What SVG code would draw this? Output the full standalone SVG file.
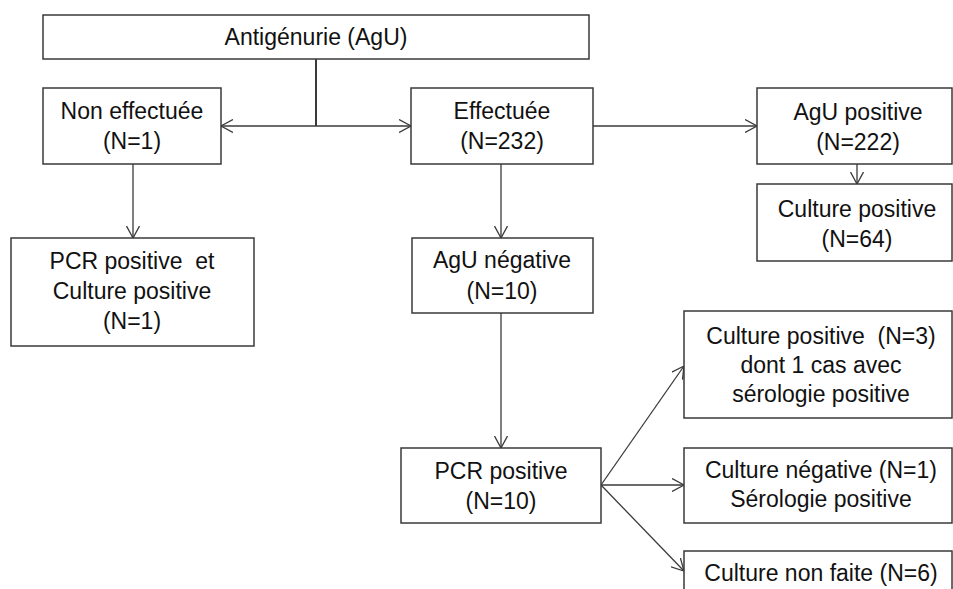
<svg xmlns="http://www.w3.org/2000/svg" width="953" height="589" viewBox="0 0 953 589">
<style>
.box{fill:#ffffff;stroke:#3a3a3a;stroke-width:1.5}
.t{font-family:"Liberation Sans",Arial,sans-serif;font-size:23px;fill:#111111;text-anchor:middle;white-space:pre}
.c{fill:none;stroke:#3a3a3a;stroke-width:1.3}
</style>
<defs>
<marker id="ah" viewBox="0 0 12 14" refX="12" refY="7" markerWidth="12" markerHeight="14" markerUnits="userSpaceOnUse" orient="auto">
<path d="M0,0.5 L12,7 L0,13.5" fill="none" stroke="#3a3a3a" stroke-width="1.3"/>
</marker>
</defs>
<rect width="953" height="589" fill="#ffffff"/>
<g id="connectors">
<line class="c" x1="316" y1="59" x2="316" y2="126" style="stroke-width:2"/>
<line class="c" x1="316" y1="126" x2="221" y2="126" marker-end="url(#ah)"/>
<line class="c" x1="316" y1="126" x2="411" y2="126" marker-end="url(#ah)"/>
<line class="c" x1="593" y1="126" x2="757" y2="126" marker-end="url(#ah)"/>
<line class="c" x1="857" y1="164" x2="857" y2="184" marker-end="url(#ah)"/>
<line class="c" x1="133" y1="164" x2="133" y2="238" marker-end="url(#ah)"/>
<line class="c" x1="501" y1="164" x2="501" y2="238" marker-end="url(#ah)"/>
<line class="c" x1="501" y1="313" x2="501" y2="448" marker-end="url(#ah)"/>
<line class="c" x1="601" y1="485" x2="684" y2="366" marker-end="url(#ah)"/>
<line class="c" x1="601" y1="485" x2="684" y2="485" marker-end="url(#ah)"/>
<line class="c" x1="601" y1="485" x2="684" y2="571" marker-end="url(#ah)"/>
</g>
<g id="antigenurie">
<rect class="box" x="43" y="15" width="546" height="44"/>
<text class="t" x="316" y="45">Antigénurie (AgU)</text>
</g>
<g id="non-effectuee">
<rect class="box" x="43" y="88" width="178" height="76"/>
<text class="t" x="132" y="119">Non effectuée</text>
<text class="t" x="132" y="149">(N=1)</text>
</g>
<g id="effectuee">
<rect class="box" x="411" y="88" width="182" height="76"/>
<text class="t" x="502" y="119">Effectuée</text>
<text class="t" x="502" y="149">(N=232)</text>
</g>
<g id="agu-positive">
<rect class="box" x="757" y="88" width="195" height="76"/>
<text class="t" x="858" y="120">AgU positive</text>
<text class="t" x="858" y="150">(N=222)</text>
</g>
<g id="culture-positive-64">
<rect class="box" x="757" y="184" width="195" height="77"/>
<text class="t" x="857" y="217">Culture positive</text>
<text class="t" x="857" y="247">(N=64)</text>
</g>
<g id="pcr-culture-positive">
<rect class="box" x="11" y="238" width="243" height="108"/>
<text class="t" x="132" y="269" xml:space="preserve">PCR positive  et</text>
<text class="t" x="132" y="299">Culture positive</text>
<text class="t" x="132" y="329">(N=1)</text>
</g>
<g id="agu-negative">
<rect class="box" x="412" y="238" width="181" height="75"/>
<text class="t" x="502" y="268">AgU négative</text>
<text class="t" x="502" y="299">(N=10)</text>
</g>
<g id="pcr-positive">
<rect class="box" x="401" y="448" width="200" height="75"/>
<text class="t" x="501" y="479">PCR positive</text>
<text class="t" x="501" y="509">(N=10)</text>
</g>
<g id="culture-positive-3">
<rect class="box" x="684" y="311" width="268" height="107"/>
<text class="t" x="821" y="344" xml:space="preserve">Culture positive  (N=3)</text>
<text class="t" x="821" y="373">dont 1 cas avec</text>
<text class="t" x="821" y="402">sérologie positive</text>
</g>
<g id="culture-negative">
<rect class="box" x="684" y="448" width="268" height="75"/>
<text class="t" x="821" y="478">Culture négative (N=1)</text>
<text class="t" x="821" y="507">Sérologie positive</text>
</g>
<g id="culture-non-faite">
<rect class="box" x="684" y="551" width="268" height="60"/>
<text class="t" x="821" y="581">Culture non faite (N=6)</text>
</g>
</svg>
